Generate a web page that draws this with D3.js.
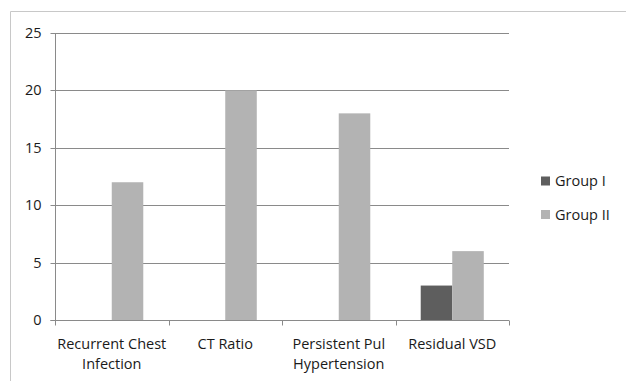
<!DOCTYPE html>
<html><head><meta charset="utf-8">
<script src="https://cdn.jsdelivr.net/npm/d3@7"></script>
<style>body{margin:0;background:#fff}svg{display:block}text{font-family:"Open Sans",Lato,sans-serif;fill:#1a1a1a}</style>
</head><body><svg id="c" width="626" height="381"></svg>
<script>
const categories = [["Recurrent Chest","Infection"],["CT Ratio"],["Persistent Pul","Hypertension"],["Residual VSD"]];
const groups = ["Group I","Group II"];
const groupI = [0,0,0,3];
const groupII = [12,20,18,6];
const yTicks = [0,5,10,15,20,25];
const colors = ["#5e5e5e","#b3b3b3"];

const svg = d3.select("#c");
const L = 55, R = 509, T = 33, B = 320;
const FS = "14.5px";
svg.append("path").attr("d","M10.5,381 V11.5 H626").attr("fill","none").attr("stroke","#c8c8c8");

const x0 = d3.scaleBand().domain(d3.range(categories.length)).range([L,R]).padding(0);
const x1 = d3.scaleBand().domain(groups).range([0,x0.bandwidth()]).paddingInner(0).paddingOuter(0.8);
const y = d3.scaleLinear().domain([0,25]).range([B,T]);

// gridlines
svg.append("g").selectAll("line").data(yTicks.filter(d=>d>0)).join("line")
  .attr("x1",L).attr("x2",R).attr("y1",d=>Math.round(y(d))+0.5).attr("y2",d=>Math.round(y(d))+0.5)
  .attr("stroke","#8a8a8a").attr("stroke-width",1);

const data = categories.map((c,i)=>[groupI[i],groupII[i]]);
svg.append("g").selectAll("g").data(data).join("g")
  .attr("transform",(d,i)=>`translate(${x0(i)},0)`)
  .selectAll("rect").data(d=>d.map((v,j)=>({g:groups[j],v,j}))).join("rect")
  .attr("x",d=>x1(d.g)).attr("width",x1.bandwidth())
  .attr("y",d=>y(d.v)).attr("height",d=>B-y(d.v))
  .attr("fill",d=>colors[d.j]);

// y axis
const ya = svg.append("g").attr("transform",`translate(${L+0.5},0)`)
  .call(d3.axisLeft(y).tickValues(yTicks).tickSize(5).tickPadding(9));
ya.select(".domain").attr("stroke","#8a8a8a").attr("d",`M-5,${B+0.5}H0V${T}`);
ya.selectAll(".tick line").attr("stroke","#8a8a8a");
ya.selectAll(".tick").attr("transform",d=>`translate(0,${Math.round(y(d))+0.5})`);
ya.selectAll("text").style("font-size",FS).style("font-family","'Open Sans',sans-serif").attr("fill","#1a1a1a");

// x axis
const xa = svg.append("g").attr("transform",`translate(0,${B+0.5})`);
xa.append("line").attr("x1",L).attr("x2",R).attr("stroke","#8a8a8a");
xa.selectAll(".t").data(d3.range(categories.length+1)).join("line")
  .attr("x1",i=>Math.round(L+i*x0.step())+0.5).attr("x2",i=>Math.round(L+i*x0.step())+0.5)
  .attr("y1",0).attr("y2",5).attr("stroke","#8a8a8a");
xa.selectAll("text").data(categories).join("text")
  .attr("text-anchor","middle").style("font-size",FS)
  .attr("transform",(d,i)=>`translate(${x0(i)+x0.bandwidth()/2},0)`)
  .selectAll("tspan").data(d=>d).join("tspan")
  .attr("x",0).attr("y",(d,k)=>28+k*20.5).text(d=>d);

// legend
const lg = svg.append("g").selectAll("g").data(groups).join("g")
  .attr("transform",(d,i)=>`translate(541,${181+i*33.5})`);
lg.append("rect").attr("x",0).attr("y",-4.5).attr("width",9).attr("height",9).attr("fill",(d,i)=>colors[i]);
lg.append("text").attr("x",14).attr("dy","0.35em").style("font-size",FS).text(d=>d);
</script></body></html>
